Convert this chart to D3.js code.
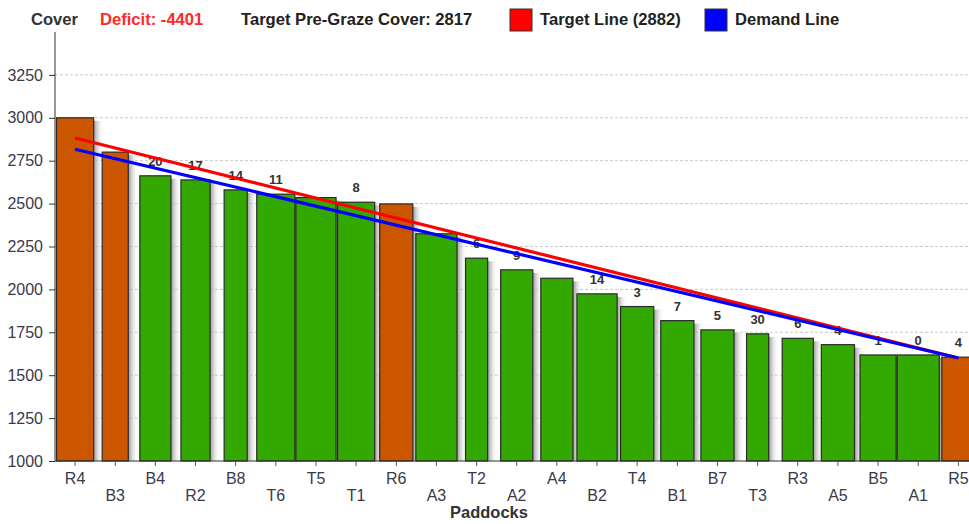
<!DOCTYPE html>
<html>
<head>
<meta charset="utf-8">
<script src="https://cdn.jsdelivr.net/npm/d3@7"></script>
<style>
  html, body { margin: 0; padding: 0; background: #fff; }
  svg { display: block; font-family: "Liberation Sans", Arial, sans-serif; }
</style>
</head>
<body>
<svg id="chart" width="969" height="524"></svg>
<script>
// ---------- data ----------
const categories = ["R4","B3","B4","R2","B8","T6","T5","T1","R6","A3","T2","A2","A4","B2","T4","B1","B7","T3","R3","A5","B5","A1","R5"];
const cover      = [3000,2800,2662,2638,2580,2555,2535,2508,2498,2324,2182,2114,2065,1974,1900,1818,1764,1741,1715,1678,1618,1618,1605];
const paddockArea = [3.7,2.6,3.1,2.9,2.3,3.8,4.0,3.7,3.3,4.1,2.2,3.2,3.2,4.0,3.3,3.3,3.3,2.2,3.1,3.3,3.6,4.2,3.3];
const status     = ["graze","graze","grow","grow","grow","grow","grow","grow","graze","grow","grow","grow","grow","grow","grow","grow","grow","grow","grow","grow","grow","grow","graze"];
const barLabels  = [null,null,20,17,14,11,null,8,null,null,6,9,null,14,3,7,5,30,6,4,1,0,4];
const targetLine = [2882, 1600];
const demandLine = [2817, 1600];
const yTicks     = [1000,1250,1500,1750,2000,2250,2500,2750,3000,3250];
const deficit = -4401;
const targetPreGraze = 2817;

// ---------- layout ----------
const svg = d3.select("#chart");
const mLeft = 55, mBottom = 461, mTop = 32, step = 40.15;
const x = d3.scaleBand().domain(categories).range([mLeft, mLeft + step * categories.length]).padding(0);
const y = d3.scaleLinear().domain([1000, 3500]).range([mBottom, mTop]);
const w = d3.scaleLinear().domain([0, 4]).range([0, x.bandwidth()]);
const color = d3.scaleOrdinal().domain(["graze","grow"]).range(["#cc5500","#33a800"]);
const cx = d => x(d) + x.bandwidth() / 2;

const defs = svg.append("defs");
const grad = defs.append("linearGradient").attr("id","shadow").attr("x1","0").attr("x2","1").attr("y1","0").attr("y2","0");
grad.append("stop").attr("offset","0").attr("stop-color","#8c8c8c").attr("stop-opacity",0.9);
grad.append("stop").attr("offset","1").attr("stop-color","#ffffff").attr("stop-opacity",0);

// grid lines
svg.append("g").selectAll("line").data(yTicks.filter(t => t > 1000)).join("line")
  .attr("x1", mLeft).attr("x2", 969)
  .attr("y1", d => y(d)).attr("y2", d => y(d))
  .attr("stroke", "#c8c8c8").attr("stroke-width", 1).attr("stroke-dasharray", "3,2");

// shadows
const data = categories.map((c, i) => ({c, v: cover[i], a: paddockArea[i], s: status[i], l: barLabels[i]}));
svg.append("g").selectAll("rect").data(data).join("rect")
  .attr("x", d => cx(d.c) + w(d.a) / 2)
  .attr("y", d => y(d.v) + 3)
  .attr("width", 10)
  .attr("height", d => mBottom - y(d.v) - 3)
  .attr("fill", "url(#shadow)");

// bars
svg.append("g").selectAll("rect").data(data).join("rect")
  .attr("x", d => cx(d.c) - w(d.a) / 2)
  .attr("y", d => y(d.v))
  .attr("width", d => w(d.a))
  .attr("height", d => mBottom - y(d.v))
  .attr("fill", d => color(d.s))
  .attr("stroke", "#2a2a2a").attr("stroke-width", 1.2);

// bar labels
svg.append("g").selectAll("text").data(data.filter(d => d.l !== null)).join("text")
  .attr("x", d => cx(d.c))
  .attr("y", d => y(d.v) - 10)
  .attr("text-anchor", "middle")
  .attr("font-size", 13).attr("font-weight", "bold").attr("fill", "#333")
  .text(d => d.l);

// lines
const lineGen = d3.line().x(d => d[0]).y(d => y(d[1]));
const first = cx(categories[0]), last = cx(categories[categories.length - 1]);
svg.append("path").attr("d", lineGen([[first, targetLine[0]], [last, targetLine[1]]]))
  .attr("stroke", "#ff0000").attr("stroke-width", 3.2).attr("fill", "none");
svg.append("path").attr("d", lineGen([[first, demandLine[0]], [last, demandLine[1]]]))
  .attr("stroke", "#0000ff").attr("stroke-width", 3.2).attr("fill", "none");

// axes
const yAxis = svg.append("g").attr("transform", `translate(${mLeft},0)`)
  .call(d3.axisLeft(y).tickValues(yTicks).tickFormat(d3.format("d")).tickSize(6).tickPadding(6));
yAxis.select(".domain").attr("d", `M0,${mTop}V${mBottom}`).attr("stroke", "#333");
yAxis.selectAll(".tick line").attr("stroke", "#333");
yAxis.selectAll("text").attr("font-size", 16).attr("fill", "#3a3a4a").attr("font-family", "Liberation Sans, Arial, sans-serif");

const xAxis = svg.append("g").attr("transform", `translate(0,${mBottom})`)
  .call(d3.axisBottom(x).tickSize(5).tickPadding(4));
xAxis.select(".domain").attr("d", `M${mLeft},0H969`).attr("stroke", "#333");
xAxis.selectAll(".tick line").attr("stroke", "#555");
xAxis.selectAll("text")
  .attr("font-size", 16).attr("fill", "#3a3a4a").attr("font-family", "Liberation Sans, Arial, sans-serif")
  .attr("dy", null)
  .attr("y", (d, i) => i % 2 === 0 ? 22.5 : 39.5);

svg.append("text").attr("x", 489).attr("y", 518).attr("text-anchor", "middle")
  .attr("font-size", 16.5).attr("font-weight", "bold").attr("fill", "#333").text("Paddocks");

// header / legend
const hdr = svg.append("g").attr("font-size", 16.6).attr("font-weight", "bold");
hdr.append("text").attr("x", 31).attr("y", 25).attr("fill", "#333").text("Cover");
hdr.append("text").attr("x", 100).attr("y", 25).attr("fill", "#ff2a2a").text(`Deficit: ${deficit}`);
hdr.append("text").attr("x", 241).attr("y", 25).attr("fill", "#222").text(`Target Pre-Graze Cover: ${targetPreGraze}`);
const legendItems = [
  {label: `Target Line (${targetLine[0]})`, color: "#ff0000", x: 510},
  {label: "Demand Line", color: "#0000ff", x: 705}
];
legendItems.forEach(it => {
  hdr.append("rect").attr("x", it.x).attr("y", 9).attr("width", 22).attr("height", 22)
    .attr("fill", it.color).attr("stroke", "#333").attr("stroke-width", 1);
  hdr.append("text").attr("x", it.x + 30).attr("y", 25).attr("fill", "#222").text(it.label);
});
</script>
</body>
</html>
